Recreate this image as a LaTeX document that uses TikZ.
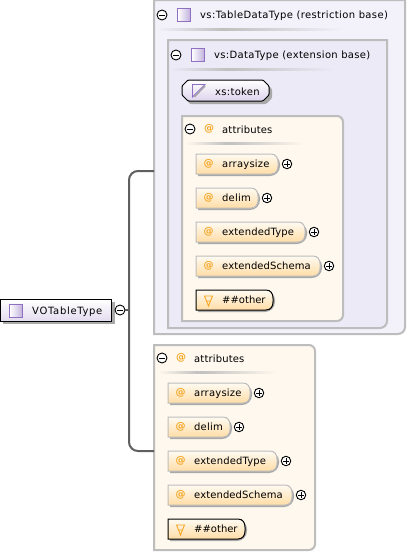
\documentclass[tikz,border=0pt]{standalone}
\usepackage{fontspec}
\setmainfont{DejaVu Sans}
\definecolor{outerfill}{HTML}{F3F1FA}
\definecolor{innerfill}{HTML}{ECEAF6}
\definecolor{attrfill}{HTML}{FEF8EE}
\definecolor{boxedge}{HTML}{BDBDBD}
\definecolor{wire}{HTML}{5F5F5F}
\definecolor{pillshadow}{HTML}{A9A9A9}
\definecolor{purpleedge}{HTML}{8F70C0}
\definecolor{orangeicon}{HTML}{F5A623}
\definecolor{pilltop}{HTML}{FEFAF2}
\definecolor{pillbot}{HTML}{FFDDA6}
\newcommand{\spaced}[1]{\addfontfeature{LetterSpace=#1}}
\tikzset{
  x=1pt,y=-1pt,
  lbl/.style={inner sep=0pt,anchor=base west,font=\fontsize{10}{11}\selectfont,text=black},
  at icon/.style={inner sep=0pt,font=\fontsize{10}{11}\selectfont\bfseries,text=orangeicon},
  panel/.style={draw=boxedge,line width=2pt},
  toggle/.style={circle,draw=black,fill=white,line width=0.9pt,minimum size=10pt,inner sep=0pt},
  wireline/.style={draw=wire,line width=2pt,rounded corners=9pt},
}
\newcommand{\togglemark}[3]{%
  \node[toggle] (#1) at (#2,#3) {};
  \draw[line width=0.9pt] (#2-3,#3) -- (#2+3,#3);}
\newcommand{\plusmark}[3]{%
  \node[toggle,minimum size=9.5pt] (#1) at (#2,#3) {};
  \draw[line width=0.9pt] (#2-2.6,#3) -- (#2+2.6,#3) (#2,#3-2.6) -- (#2,#3+2.6);}
\newcommand{\typeicon}[2]{%
  \fill[left color=white,right color=purpleedge!55] (#1,#2) rectangle ++(13,13);
  \draw[purpleedge,line width=0.9pt] (#1,#2) rectangle ++(13,13);}
\newcommand{\divider}[4]{%
  \shade[left color=#4,right color=black!25] (#1,#3-1) rectangle ({#1+(#2-#1)*0.35},#3+1);
  \shade[left color=black!25,right color=#4] ({#1+(#2-#1)*0.35},#3-1) rectangle (#2,#3+1);}
\newcommand{\pillshape}[4]{%
  \fill[pillshadow] (#1+2,#2+2) -- (#3-6,#2+2) arc[start angle=90,end angle=0,radius=8pt] -- (#3+2,#2+12) arc[start angle=0,end angle=-90,radius=10pt] -- (#1+2,#2+22) -- cycle;
  \path[#4,top color=pilltop,bottom color=pillbot,line width=1pt]
     (#1,#2) -- (#3-7,#2) .. controls (#3-2,#2) and (#3,#2+4) .. (#3,#2+8) -- (#3,#2+12)
     .. controls (#3,#2+16) and (#3-2,#2+20) .. (#3-7,#2+20) -- (#1,#2+20) -- cycle;}
\newcommand{\attrpill}[6]{% name x y x2 spacing text
  \pillshape{#2}{#3}{#4}{draw=boxedge}
  \node[at icon] at (#2+12.5,#3+9.5) {@};
  \node[lbl] (#1) at (#2+26,#3+13.5) {\spaced{#5}#6};
  \plusmark{#1p}{#4+9}{#3+10}
}
\newcommand{\otherpill}[4]{%
  \pillshape{#2}{#3}{#4}{draw=black}
  \draw[orangeicon,line width=0.9pt] (#2+8,#3+6) -- (#2+17,#3+6) (#2+8.5,#3+6) -- (#2+12.5,#3+16) -- (#2+16.5,#3+6)
     (#2+10.5,#3+11) -- (#2+14.5,#3+11);
  \node[lbl] (#1) at (#2+26,#3+13.5) {\#\#other};
}
\begin{document}
\begin{tikzpicture}
\useasboundingbox (0,0) rectangle (407,552);
% outer panel
\draw[panel,fill=outerfill] (154,0) -- (405,0) -- (405,327) arc[start angle=0,end angle=-90,radius=7pt] -- (154,334) -- cycle;
\coordinate (outerw) at (154,171);
\togglemark{t1}{162}{15}
\typeicon{177.5}{8.5}
\node[lbl] (n1) at (200,18.5) {\spaced{3.7}vs:TableDataType (restriction base)};
\divider{156}{345}{29}{outerfill}
% inner panel
\draw[panel,fill=innerfill] (168,40) -- (387,40) -- (387,321) arc[start angle=0,end angle=-90,radius=7pt] -- (168,328) -- cycle;
\togglemark{t2}{176}{55}
\typeicon{191.5}{48.5}
\node[lbl] (n2) at (214,58) {\spaced{3.2}vs:DataType (extension base)};
\divider{170}{335}{69}{innerfill}
% xs:token
\fill[pillshadow,rounded corners=1pt] (190,83) -- (266,83) -- (272,89) -- (272,98) -- (266,104) -- (190,104) -- (185,98) -- (185,89) -- cycle;
\path[draw=black,line width=1pt,top color=white,bottom color=purpleedge!30,rounded corners=1pt]
  (188,80) -- (263,80) -- (269,86) -- (269,95) -- (263,101) -- (188,101) -- (182,95) -- (182,86) -- cycle;
\draw[purpleedge,line width=0.9pt] (192.5,84.5) -- (205,84.5) -- (192.5,97) -- cycle;
\draw[black!35,line width=1.4pt] (205,86) -- (194.5,97);
\node[lbl] (n3) at (215,95) {\spaced{3}xs:token};
% attributes 1
\draw[panel,fill=attrfill] (182,116) -- (337,116) arc[start angle=90,end angle=0,radius=6pt] -- (343,315) arc[start angle=0,end angle=-90,radius=6pt] -- (182,321) -- cycle;
\togglemark{t4}{190}{129}
\node[at icon] at (209,129) {@};
\node[lbl] (n4) at (222,133) {\spaced{1.5}attributes};
\divider{186}{304}{143}{attrfill}
\attrpill{a1}{196}{154}{278}{2.2}{arraysize}
\attrpill{a2}{196}{188}{258}{2}{delim}
\attrpill{a3}{196}{222}{305}{1.5}{extendedType}
\attrpill{a4}{196}{256}{320}{1}{extendedSchema}
\otherpill{a5}{196}{290}{273}
% attributes 2
\draw[panel,fill=attrfill] (154,345) -- (309,345) arc[start angle=90,end angle=0,radius=6pt] -- (315,544) arc[start angle=0,end angle=-90,radius=6pt] -- (154,550) -- cycle;
\coordinate (attrw) at (154,451);
\togglemark{t5}{162}{358}
\node[at icon] at (181,358) {@};
\node[lbl] (n5) at (194,362) {\spaced{1.5}attributes};
\divider{158}{276}{372}{attrfill}
\attrpill{b1}{168}{383}{250}{2.2}{arraysize}
\attrpill{b2}{168}{417}{230}{2}{delim}
\attrpill{b3}{168}{451}{277}{1.5}{extendedType}
\attrpill{b4}{168}{485}{292}{1}{extendedSchema}
\otherpill{b5}{168}{519}{245}
% root
\fill[pillshadow] (3,302) rectangle (115,324);
\path[draw=black,line width=1pt,top color=white,bottom color=purpleedge!25] (0.5,299.5) rectangle (111.5,321);
\typeicon{9.5}{304}
\node[lbl] (root) at (32,314) {\spaced{6.8}VOTableType};
% connector
\togglemark{rt}{120}{310}
\coordinate (j) at (129,310);
\draw[wireline] (outerw) -- (129,171) -- (129,451) -- (attrw);
\draw[draw=wire,line width=2pt] (rt) -- (j);
\end{tikzpicture}
\end{document}
